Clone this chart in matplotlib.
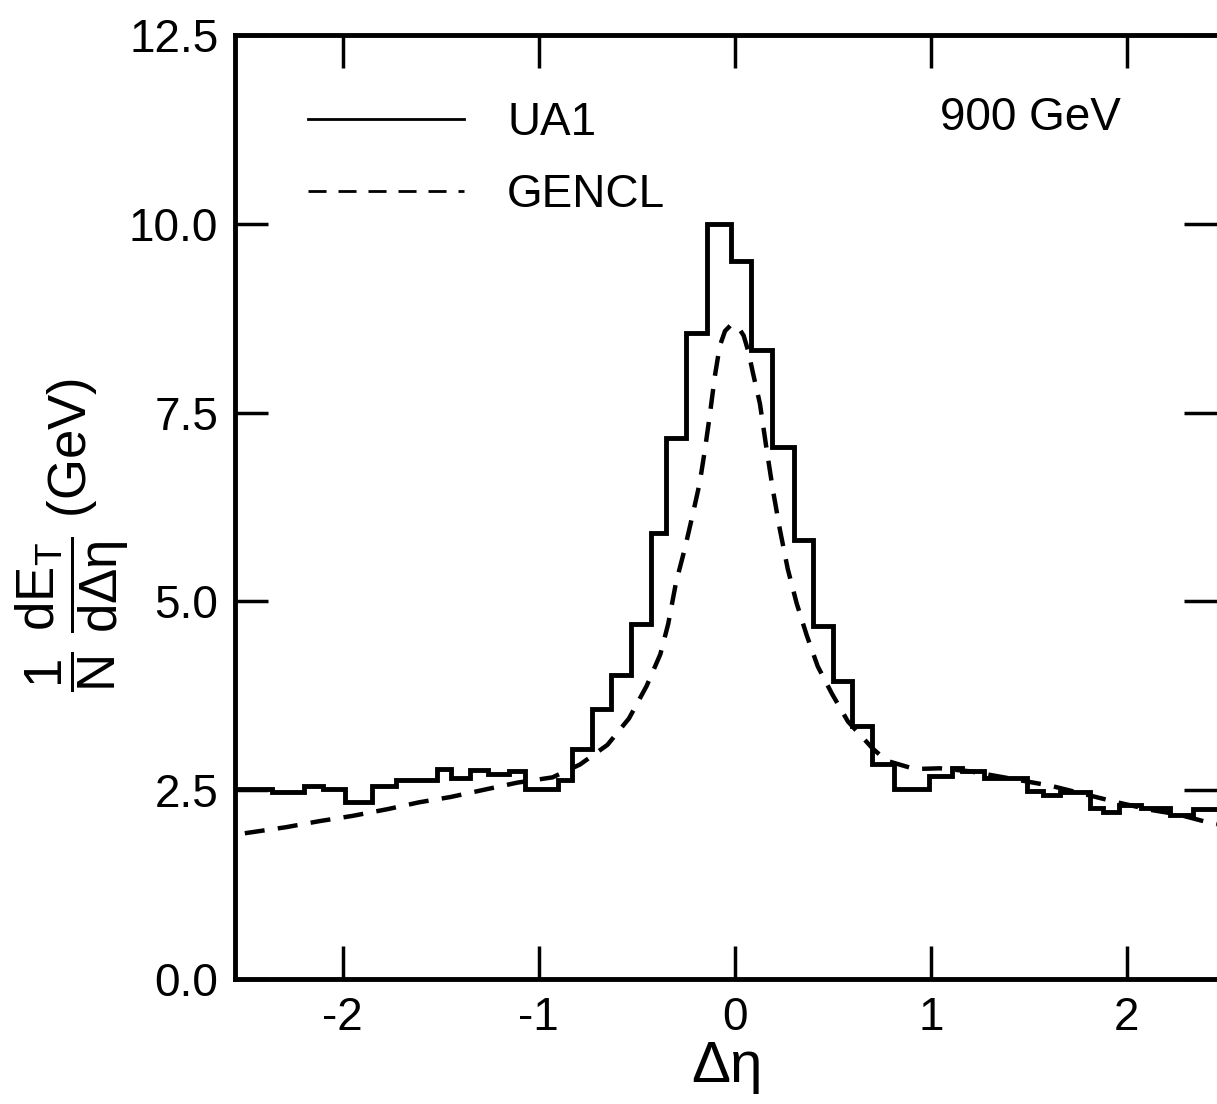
import numpy as np
import matplotlib
matplotlib.use("Agg")
import matplotlib.pyplot as plt

plt.rcParams['font.family'] = ['Liberation Sans', 'DejaVu Sans']
plt.rcParams['axes.unicode_minus'] = False
plt.rcParams['mathtext.fontset'] = 'custom'
plt.rcParams['mathtext.rm'] = 'Liberation Sans'
plt.rcParams['mathtext.it'] = 'Liberation Sans'
plt.rcParams['mathtext.bf'] = 'Liberation Sans'

# UA1 histogram, bin edges and contents
ua1_edges = [-2.55, -2.36, -2.20, -2.10, -1.99, -1.85, -1.73, -1.52, -1.45, -1.35,
             -1.26, -1.15, -1.07, -0.90, -0.83, -0.73, -0.63, -0.53, -0.43, -0.35,
             -0.25, -0.14, -0.02, 0.08, 0.19, 0.30, 0.40, 0.50, 0.60, 0.70,
             0.81, 0.99, 1.11, 1.16, 1.27, 1.49, 1.57, 1.66, 1.81, 1.88,
             1.96, 2.07, 2.22, 2.34, 2.46]
ua1_vals = [2.52, 2.48, 2.56, 2.52, 2.35, 2.55, 2.64, 2.78, 2.66, 2.77,
            2.71, 2.75, 2.52, 2.63, 3.05, 3.57, 4.03, 4.70, 5.91, 7.17,
            8.56, 10.0, 9.51, 8.33, 7.05, 5.81, 4.68, 3.95, 3.35, 2.85,
            2.51, 2.69, 2.80, 2.76, 2.66, 2.49, 2.43, 2.48, 2.26, 2.21,
            2.30, 2.27, 2.17, 2.25]

# GENCL curve
gencl_x = [-2.5, -2.29, -2.12, -1.95, -1.77, -1.61, -1.45, -1.29, -1.11, -0.93,
           -0.79, -0.65, -0.54, -0.45, -0.38, -0.34, -0.30, -0.255, -0.214, -0.179,
           -0.153, -0.128, -0.102, -0.077, -0.05, -0.02, 0.015, 0.045, 0.07, 0.092,
           0.128, 0.163, 0.194, 0.23, 0.27, 0.316, 0.367, 0.423, 0.495, 0.577,
           0.704, 0.775, 0.918, 1.046, 1.2, 1.61, 1.95, 2.12, 2.26, 2.42, 2.46]
gencl_y = [1.93, 2.01, 2.09, 2.16, 2.25, 2.34, 2.41, 2.50, 2.60, 2.67,
           2.84, 3.10, 3.45, 3.88, 4.30, 4.70, 5.25, 5.70, 6.16, 6.57,
           7.00, 7.46, 7.98, 8.38, 8.58, 8.66, 8.64, 8.52, 8.30, 8.03,
           7.62, 7.00, 6.48, 5.95, 5.43, 4.97, 4.55, 4.14, 3.78, 3.41,
           3.05, 2.89, 2.78, 2.79, 2.75, 2.56, 2.34, 2.24, 2.18, 2.07, 2.05]

xticks = [-2, -1, 0, 1, 2]
yticks = [0.0, 2.5, 5.0, 7.5, 10.0, 12.5]

fig = plt.figure(figsize=(12.17, 11.04), dpi=100)
ax = fig.add_axes([235/1217, 125/1104, 982/1217, 944/1104])

ax.stairs(ua1_vals, ua1_edges, baseline=None, color='black', lw=3.5, label='UA1')
ax.plot(gencl_x, gencl_y, color='black', lw=3.2, dashes=(4.5, 3.0), label='GENCL')

ax.set_xlim(-2.55, 2.46)
ax.set_ylim(0, 12.5)
ax.set_xticks(xticks)
ax.set_xticklabels(['%d' % t for t in xticks])
ax.set_yticks(yticks)
ax.set_yticklabels(['%.1f' % t for t in yticks])
ax.tick_params(direction='in', length=24, width=2.5, labelsize=33,
               top=True, right=True, pad=12)

for s in ['left', 'bottom', 'top']:
    ax.spines[s].set_linewidth(3.5)
ax.spines['right'].set_visible(False)

ax.set_xlabel(r'$\Delta\eta$', fontsize=42, labelpad=0)
fig.text(72/1217, 1 - 535/1104,
         r'$\mathrm{\dfrac{1}{N}\ \dfrac{dE_T}{d\Delta\eta}}$ (GeV)',
         rotation=90, fontsize=38, ha='center', va='center')

leg = ax.legend(loc='upper left', bbox_to_anchor=(0.074, 0.93), frameon=False,
                fontsize=33, handlelength=3.4, handletextpad=0.95,
                labelspacing=0.6, borderaxespad=0, borderpad=0)
hl = leg.get_lines()
hl[0].set_linewidth(2)
hl[1].set_linewidth(2)
hl[1].set_dashes((6.5, 4.3))

ax.text(0.81, 0.912, '900 GeV', transform=ax.transAxes, fontsize=33,
        ha='center', va='center')

plt.savefig('out.png', dpi=100)
